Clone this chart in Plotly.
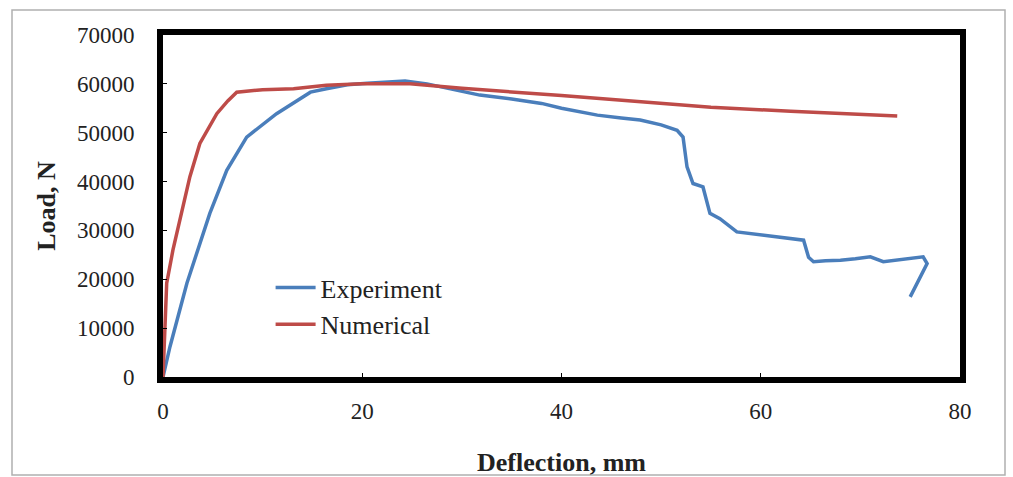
import plotly.graph_objects as go

# Experiment (blue)
exp_x = [0, 0.7, 2.4, 4.7, 6.4, 8.4, 11.4, 14.8, 16.4, 18.5, 20.5, 22.5, 24.3, 26.5, 29, 31.8, 35, 38, 40, 43.6, 46, 47.9, 50, 51.6,
         52.2, 52.6, 53.2, 54.2, 54.9, 55.9, 57.6, 59.5, 61.3, 63, 64.3, 64.8, 65.3, 66.5, 68, 69.5, 71, 72.3, 74, 76.3, 76.7, 75]
exp_y = [0, 6200, 19200, 33500, 42300, 49100, 53900, 58300, 59000, 59800, 60100, 60300, 60600, 60000, 59000, 57700, 56900, 56000, 55000, 53600, 53000, 52600, 51600, 50500,
         49100, 43000, 39600, 38900, 33500, 32400, 29700, 29200, 28700, 28400, 28000, 24500, 23600, 23800, 23900, 24200, 24600, 23600, 24000, 24600, 23200, 16400]

# Numerical (red)
num_x = [0, 0.37, 1.0, 1.7, 2.7, 3.7, 5.4, 6.5, 7.4, 10, 13.1, 16.4, 20, 24.8, 30, 40, 47.9, 55, 63, 73.7]
num_y = [0, 19200, 26000, 32100, 41000, 47800, 53900, 56500, 58300, 58800, 59000, 59700, 60000, 60000, 59100, 57600, 56300, 55200, 54400, 53400]

x_ticks = [0, 20, 40, 60, 80]
y_ticks = [0, 10000, 20000, 30000, 40000, 50000, 60000, 70000]
y_tick_labels = [str(v) for v in y_ticks]

fig = go.Figure()
fig.add_trace(go.Scatter(x=exp_x, y=exp_y, mode="lines", name="Experiment",
                         line=dict(color="#4a7ebb", width=3.5)))
fig.add_trace(go.Scatter(x=num_x, y=num_y, mode="lines", name="Numerical",
                         line=dict(color="#be4b48", width=3.5)))

font_family = "Liberation Serif"
fig.update_layout(
    width=1013, height=477,
    margin=dict(l=163, r=53, t=35, b=100, autoexpand=False),
    paper_bgcolor="white", plot_bgcolor="white",
    font=dict(family=font_family, color="#222", size=23),
    showlegend=True,
    legend=dict(x=0.135, y=0.33, xanchor="left", yanchor="top",
                bgcolor="rgba(0,0,0,0)", font=dict(size=26, family=font_family),
                tracegroupgap=0, itemwidth=40),
    xaxis=dict(range=[0, 80], tickvals=x_ticks, showgrid=False, zeroline=False,
               showline=True, linecolor="black", linewidth=6, mirror=True,
               ticks="inside", ticklen=4, tickcolor="black", automargin=False,
               tickfont=dict(size=23, family=font_family), ticklabelstandoff=8,
               title=dict(text="<b>Deflection, mm</b>", font=dict(size=26, family=font_family), standoff=38)),
    yaxis=dict(range=[0, 70000], tickvals=y_ticks, ticktext=y_tick_labels, showgrid=False, zeroline=False,
               showline=True, linecolor="black", linewidth=6, mirror=True,
               ticks="inside", ticklen=4, tickcolor="black", automargin=False,
               tickfont=dict(size=23, family=font_family), ticklabelstandoff=18,
               title=dict(text="<b>Load, N</b>", font=dict(size=26, family=font_family), standoff=16)),
    shapes=[dict(type="rect", xref="paper", yref="paper",
                 x0=(12 - 163) / 797, x1=(1005 - 163) / 797,
                 y0=(377 - 475) / 342, y1=(377 - 10) / 342,
                 line=dict(color="#b0b0b0", width=1.5), layer="below")]
)

fig.write_html("out.html")
